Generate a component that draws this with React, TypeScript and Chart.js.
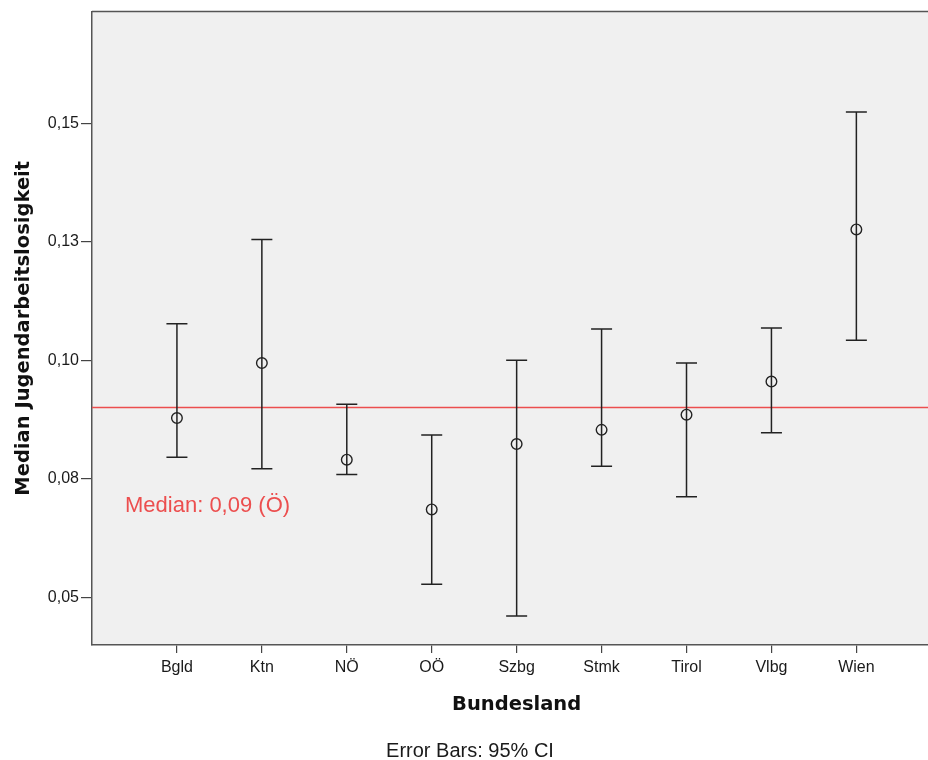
import React, { useEffect, useRef } from "react";
import { Chart, registerables } from "chart.js";

Chart.register(...registerables);

const categories = ["Bgld", "Ktn", "NÖ", "OÖ", "Szbg", "Stmk", "Tirol", "Vlbg", "Wien"];
const medians = [0.0878, 0.0994, 0.079, 0.0685, 0.0823, 0.0853, 0.0885, 0.0955, 0.1276];
const ciLower = [0.0795, 0.0771, 0.0759, 0.0527, 0.046, 0.0776, 0.0712, 0.0847, 0.1042];
const ciUpper = [0.1077, 0.1255, 0.0907, 0.0842, 0.1, 0.1066, 0.0994, 0.1068, 0.1524];
const overallMedian = 0.09;
const medianLabel = "Median: 0,09 (Ö)";
const yTickValues = [0.05, 0.075, 0.1, 0.125, 0.15];
const yTickLabels = ["0,05", "0,08", "0,10", "0,13", "0,15"];
const yTitle = "Median Jugendarbeitslosigkeit";
const xTitle = "Bundesland";
const footnote = "Error Bars: 95% CI";

const SANS = "'Liberation Sans', Arial, sans-serif";
const BOLD = "'DejaVu Sans', Verdana, sans-serif";

const decorPlugin = {
  id: "decor",
  beforeDatasetsDraw(chart: any) {
    const { ctx, chartArea, scales } = chart;
    const y = scales.y;
    const x = scales.x;
    ctx.save();
    const my = y.getPixelForValue(overallMedian);
    ctx.strokeStyle = "rgb(236,78,78)";
    ctx.lineWidth = 1.5;
    ctx.beginPath();
    ctx.moveTo(chartArea.left, my);
    ctx.lineTo(chartArea.right, my);
    ctx.stroke();
    ctx.strokeStyle = "#222";
    ctx.lineWidth = 1.5;
    for (let i = 0; i < categories.length; i++) {
      const px = x.getPixelForValue(i);
      const lo = y.getPixelForValue(ciLower[i]);
      const hi = y.getPixelForValue(ciUpper[i]);
      ctx.beginPath();
      ctx.moveTo(px, lo);
      ctx.lineTo(px, hi);
      ctx.moveTo(px - 10.5, lo);
      ctx.lineTo(px + 10.5, lo);
      ctx.moveTo(px - 10.5, hi);
      ctx.lineTo(px + 10.5, hi);
      ctx.stroke();
    }
    ctx.restore();
  },
  beforeDraw(chart: any) {
    const { ctx, chartArea } = chart;
    ctx.save();
    ctx.fillStyle = "#fff";
    ctx.fillRect(0, 0, chart.width, chart.height);
    ctx.fillStyle = "#f0f0f0";
    ctx.fillRect(chartArea.left, chartArea.top, chartArea.right - chartArea.left, chartArea.bottom - chartArea.top);
    ctx.restore();
  },
  afterDraw(chart: any) {
    const { ctx, chartArea, scales } = chart;
    ctx.save();
    ctx.strokeStyle = "#555";
    ctx.lineWidth = 1.5;
    ctx.beginPath();
    ctx.moveTo(chartArea.left, chartArea.top);
    ctx.lineTo(chartArea.right, chartArea.top);
    ctx.stroke();
    const my = scales.y.getPixelForValue(overallMedian);
    ctx.fillStyle = "rgb(236,78,78)";
    ctx.font = `22px ${SANS}`;
    ctx.textAlign = "left";
    ctx.textBaseline = "alphabetic";
    ctx.fillText(medianLabel, chartArea.left + 33, my + 104);
    ctx.fillStyle = "#1a1a1a";
    ctx.font = `20px ${SANS}`;
    ctx.textAlign = "center";
    ctx.fillText(footnote, 470, 757);
    ctx.restore();
  },
};

export default function App() {
  const ref = useRef<HTMLCanvasElement>(null);
  useEffect(() => {
    if (!ref.current) return;
    const chart = new Chart(ref.current, {
      type: "scatter",
      data: {
        datasets: [
          {
            data: medians.map((v, i) => ({ x: i, y: v })),
            pointRadius: 5.3,
            pointBorderWidth: 1.4,
            pointBorderColor: "#222",
            pointBackgroundColor: "rgba(0,0,0,0)",
            showLine: false,
          },
        ],
      },
      options: {
        animation: false,
        responsive: false,
        devicePixelRatio: 1,
        events: [],
        layout: { padding: { top: 10, left: 0, right: 0, bottom: 0 } },
        plugins: { legend: { display: false }, tooltip: { enabled: false }, title: { display: false } },
        scales: {
          x: {
            type: "linear",
            min: -1,
            max: 9,
            afterBuildTicks: (s: any) => {
              s.ticks = categories.map((_, i) => ({ value: i }));
            },
            afterFit: (s: any) => {
              s.height = 115;
            },
            ticks: {
              callback: (v: any) => categories[v as number] ?? "",
              autoSkip: false,
              maxRotation: 0,
              padding: 5,
              color: "#1a1a1a",
              font: { family: SANS, size: 16 },
            },
            grid: { drawOnChartArea: false, drawTicks: true, tickLength: 8, color: "#444", lineWidth: 1.2 },
            border: { display: true, color: "#555", width: 1.5 },
            title: {
              display: true,
              text: xTitle,
              color: "#111",
              font: { family: BOLD, size: 19.5, weight: "bold" },
              padding: { top: 0, bottom: 43 },
            },
          },
          y: {
            type: "linear",
            min: 0.039895,
            max: 0.17358,
            afterBuildTicks: (s: any) => {
              s.ticks = yTickValues.map((v) => ({ value: v }));
            },
            afterFit: (s: any) => {
              s.width = 92;
            },
            ticks: {
              callback: (_v: any, i: number) => yTickLabels[i],
              padding: 2,
              color: "#1a1a1a",
              font: { family: SANS, size: 16 },
            },
            grid: { drawOnChartArea: false, drawTicks: true, tickLength: 11, color: "#444", lineWidth: 1.2 },
            border: { display: true, color: "#555", width: 1.5 },
            title: {
              display: true,
              text: yTitle,
              color: "#111",
              font: { family: BOLD, size: 19.5, weight: "bold" },
              padding: { top: 12, bottom: 0 },
            },
          },
        },
      },
      plugins: [decorPlugin],
    });
    return () => chart.destroy();
  }, []);
  return (
    <div style={{ position: "fixed", left: 0, top: 0, width: 928, height: 760, overflow: "hidden", background: "#fff" }}>
      <canvas ref={ref} width={948} height={760} style={{ width: 948, height: 760, display: "block" }} />
    </div>
  );
}
